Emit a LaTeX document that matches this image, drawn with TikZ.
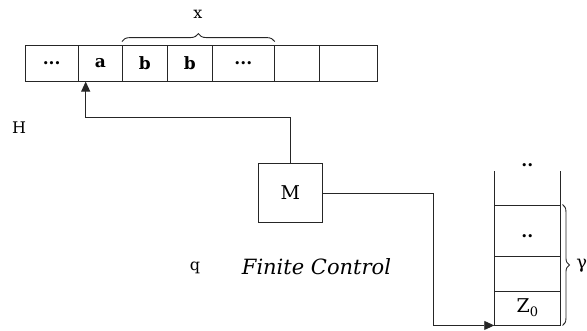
\documentclass[tikz,border=0pt]{standalone}
\usepackage{fontspec}
\setmainfont{DejaVu Serif}
\usetikzlibrary{arrows.meta,decorations.pathreplacing,calc}
\begin{document}
\begin{tikzpicture}[x=1pt,y=-1pt,
  line width=0.9pt, draw=black!85,
  cell/.style={draw, minimum height=36.5pt, inner sep=0pt, anchor=center, font=\fontsize{17}{18}\selectfont\bfseries},
  scell/.style={draw, minimum width=65.3pt, inner sep=0pt, anchor=center, font=\fontsize{19}{20}\selectfont},
  lbl/.style={inner sep=0pt, font=\fontsize{16}{18}\selectfont},
  tip/.style={-{Triangle[length=10pt,width=9pt]}}]
\useasboundingbox (0,0) rectangle (587,331);
% tape
\node[cell, minimum width=53.3pt] (c1) at (51.7,63.3) {...};
\node[cell, minimum width=44pt]   (c2) at (100.3,63.3) {a};
\node[cell, minimum width=44.7pt] (c3) at (144.7,63.3) {b};
\node[cell, minimum width=45.3pt] (c4) at (189.7,63.3) {b};
\node[cell, minimum width=62pt]   (c5) at (243.3,63.3) {...};
\node[cell, minimum width=44.7pt] (c6) at (296.7,63.3) {};
\node[cell, minimum width=58.7pt] (c7) at (348.3,63.3) {};
\draw[decorate, decoration={brace, amplitude=8pt}] ($(c3.north west)+(0,-3)$) -- ($(c5.north east)+(0,-3)$);
\node[lbl] (xl) at (198,14) {x};
% head
\node[lbl] (H) at (19,128) {H};
\node[draw, minimum width=64pt, minimum height=59.5pt, inner sep=0pt, font=\fontsize{19}{20}\selectfont] (M) at (290.3,193) {M};
\coordinate (head) at (85.7,81.6);
\draw[tip] (M.north) |- (head |- 0,117) -- (head);
% labels
\node[lbl] (q) at (195,268) {q};
\node[lbl, font=\fontsize{21}{23}\selectfont\itshape] (fc) at (316.5,267) {Finite Control};
% stack
\node[scell, minimum height=34pt] (z0) at (527.35,308) {Z\raisebox{-4pt}{\fontsize{13}{13}\selectfont 0}};
\node[scell, minimum height=34.3pt] (s2) at (527.35,273.85) {};
\node[scell, minimum height=51.7pt] (s3) at (527.35,230.85) {};
\node[lbl, font=\fontsize{17}{18}\selectfont\bfseries] (d2) at (527.35,236) {..};
\draw (s3.north west) -- ++(0,-33.3) coordinate (tl);
\draw (s3.north east) -- ++(0,-33.3) coordinate (tr);
\node[lbl, font=\fontsize{17}{18}\selectfont\bfseries] (d1) at (527.35,165) {..};
\draw[decorate, decoration={brace, amplitude=7pt}] ($(s3.north east)+(2,0)$) -- ($(z0.south east)+(2,0)$);
\node[lbl, anchor=west, font=\fontsize{18}{20}\selectfont] (gam) at (576,266) {γ};
% control to stack
\coordinate (bend) at (433.3,325);
\draw[tip] (M.east) -| (bend |- z0.south west) -- (z0.south west);
\end{tikzpicture}
\end{document}
